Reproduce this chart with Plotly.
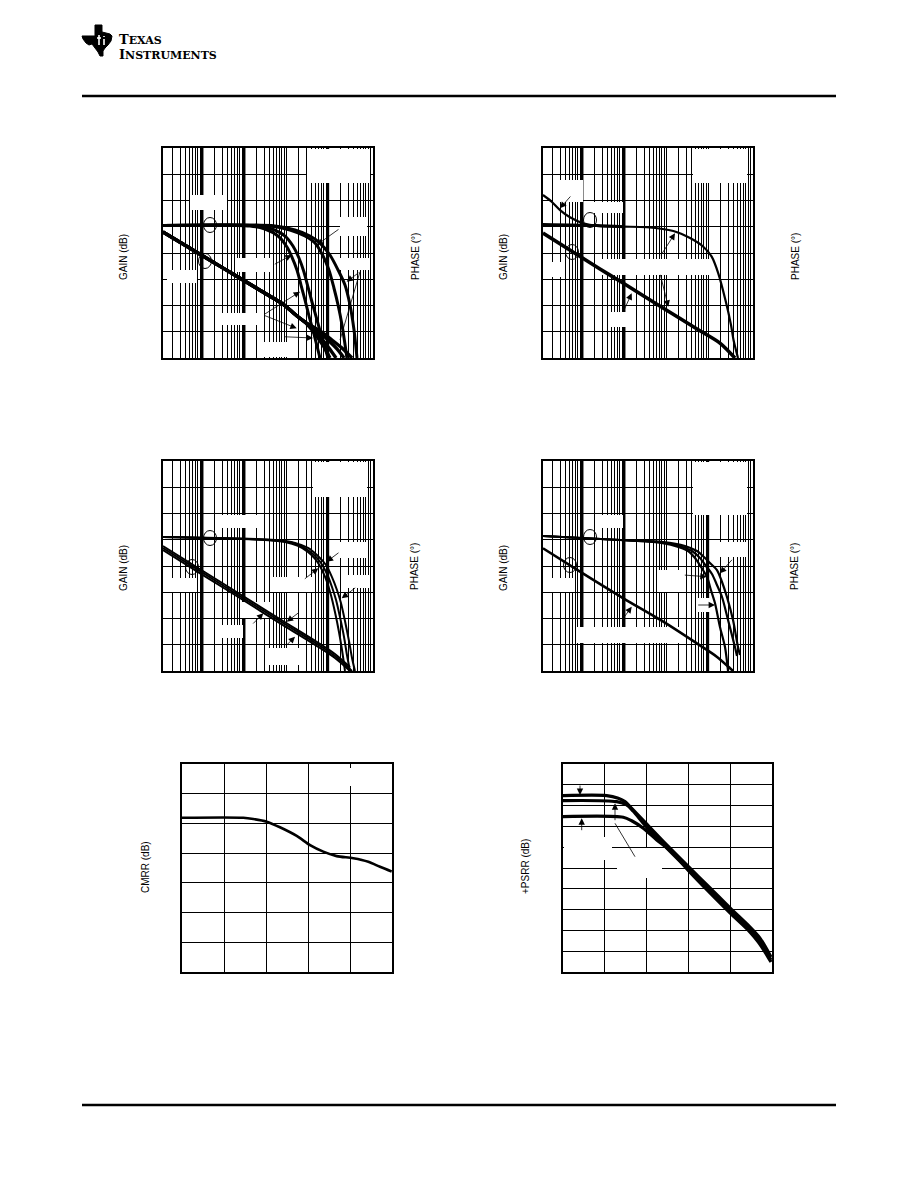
import plotly.graph_objects as go

PAGE_W, PAGE_H = 918, 1188
OFF = 8                      # the page body adds an 8 px margin around the figure
FW, FH = PAGE_W - 2 * OFF, PAGE_H - 2 * OFF

# ---------------- data ----------------
# Panel 1 : open-loop phase (4 curves) and gain (4 curves)
p1_ph_f = [
    [1.17e3, 1.38e5, 3.15e5, 6.43e5, 1.05e6, 1.38e6, 1.82e6, 2.27e6, 2.82e6, 3.52e6, 4.62e6, 6.43e6],
    [1.17e3, 2.15e5, 4.62e5, 9.44e5, 1.46e6, 2.03e6, 2.67e6, 3.33e6, 4.14e6, 5.46e6, 7.18e6, 9.98e6],
    [1.17e3, 4.15e5, 1.24e6, 2.82e6, 4.89e6, 7.59e6, 1.05e7, 1.38e7, 1.73e7, 2.15e7, 2.82e7],
    [1.17e3, 5.46e5, 1.63e6, 3.72e6, 6.43e6, 1.11e7, 1.73e7, 2.53e7, 3.33e7, 4.15e7, 4.89e7],
]
p1_ph_deg = [
    [-88.6, -89.1, -92.6, -100.6, -113.1, -124.6, -139.4, -156.6, -173.7, -192, -212.6, -240],
    [-88.6, -89.1, -92.6, -100.6, -112, -125.7, -141.7, -158.9, -176, -196.6, -217.1, -240],
    [-88.6, -89.1, -93.7, -100.6, -108.6, -123.4, -139.4, -160, -179.4, -202.3, -240],
    [-88.6, -89.1, -93.7, -100.6, -108.6, -122.3, -139.4, -156.6, -179.4, -208, -240],
]
p1_g_f = [
    [1.17e3, 1.05e4, 9.44e4, 4.89e5, 8.45e5, 1.82e6, 2.82e6, 4.14e6, 5.75e6, 8.0e6, 1.11e7],
    [1.17e3, 1.05e4, 9.44e4, 4.89e5, 8.45e5, 1.82e6, 2.82e6, 4.89e6, 7.18e6, 1.05e7, 1.55e7],
    [1.17e3, 1.05e4, 9.44e4, 4.89e5, 8.45e5, 1.82e6, 2.82e6, 5.75e6, 9.98e6, 1.63e7, 2.4e7],
    [1.17e3, 1.05e4, 9.44e4, 4.89e5, 8.45e5, 1.82e6, 2.82e6, 6.43e6, 1.24e7, 2.27e7, 3.72e7],
]
p1_g_db = [
    [56, 37.7, 19.4, 5.7, 1.1, -8, -12.6, -18.7, -24.8, -31.6, -40],
    [56, 37.7, 19.4, 5.7, 1.1, -8, -12.6, -19.4, -25.5, -32.4, -40],
    [56, 37.7, 19.4, 5.7, 1.1, -8, -12.6, -19.4, -26.3, -33.1, -40],
    [56, 37.7, 19.4, 5.7, 1.1, -8, -12.6, -19.4, -26.3, -33.1, -40],
]

# Panel 2 : two phase curves, one gain curve
p2_phA_f = [1.17e3, 1.89e3, 2.99e3, 5.16e3, 1.07e4, 2.23e4, 9.6e4, 3.46e5, 1.49e6, 3.72e6,
            7.7e6, 1.22e7, 1.75e7, 2.6e7, 3.52e7, 4.04e7, 5.16e7]
p2_phA_deg = [-53.7, -61.4, -70.9, -79.2, -86.1, -89.1, -89.9, -90.6, -94.9, -102.9,
              -112.8, -124.2, -143.2, -174, -202.3, -219.4, -240]
p2_phB_f = [1.17e3, 2.23e4, 9.6e4]
p2_phB_deg = [-87.4, -88.6, -89.9]
p2_g_f = [1.17e3, 2.67e4, 9.44e4, 8.45e5, 5.46e6, 1.92e7, 4.37e7]
p2_g_db = [55.2, 27.8, 17.1, -1.9, -17.9, -28.6, -40]

# Panel 3 : three phase curves, three gain curves
p3_ph_f = [
    [1.17e3, 3.15e5, 9.44e5, 1.92e6, 3.33e6, 5.16e6, 7.18e6, 9.44e6, 1.17e7, 1.46e7, 1.82e7, 2.15e7, 2.53e7],
    [1.17e3, 4.15e5, 1.24e6, 2.53e6, 4.38e6, 6.79e6, 9.44e6, 1.24e7, 1.55e7, 1.92e7, 2.4e7, 2.82e7, 3.33e7],
    [1.17e3, 5.46e5, 1.63e6, 3.33e6, 5.75e6, 8.93e6, 1.24e7, 1.63e7, 2.03e7, 2.53e7, 3.15e7, 3.72e7, 4.37e7],
]
p3_ph_deg = [
    [-86.9, -90.3, -92.6, -97.1, -104, -113.1, -124.6, -138.3, -153.1, -172.6, -195.4, -216, -240],
    [-86.9, -90.3, -92.6, -98.3, -106.3, -116.6, -129.1, -144, -158.9, -178.3, -201.1, -221.7, -240],
    [-86.9, -90.3, -93.7, -99.4, -108.6, -118.9, -132.6, -147.4, -162.3, -182.9, -205.7, -225.1, -240],
]
p3_g_f = [
    [1.17e3, 1.05e4, 9.44e4, 8.45e5, 5.46e6, 1.46e7, 3.33e7],
    [1.17e3, 1.05e4, 9.44e4, 8.45e5, 5.46e6, 1.46e7, 3.72e7],
    [1.17e3, 1.05e4, 9.44e4, 8.45e5, 5.46e6, 1.46e7, 3.33e7],
]
p3_g_db = [
    [55.2, 36.2, 17.1, -1.9, -17.9, -27, -37],
    [53.7, 34.7, 15.6, -3.4, -19.4, -28.6, -40],
    [52.2, 33.1, 14.1, -5, -21, -30.1, -40],
]

# Panel 4 : three phase curves, one gain curve
p4_ph_f = [
    [1.17e3, 8.0e4, 4.89e5, 1.63e6, 3.33e6, 4.89e6, 6.79e6, 9.44e6, 1.17e7, 1.46e7, 1.92e7, 2.53e7, 2.99e7],
    [1.17e3, 8.0e4, 6.43e5, 2.15e6, 4.14e6, 6.43e6, 8.93e6, 1.24e7, 1.63e7, 2.15e7, 2.99e7, 4.37e7, 4.89e7],
    [1.17e3, 8.0e4, 8.45e5, 2.82e6, 5.46e6, 8.0e6, 1.11e7, 1.63e7, 2.15e7, 2.82e7, 3.93e7, 5.16e7, 5.75e7],
]
p4_ph_deg = [
    [-85.7, -90.3, -92.6, -97.1, -102.9, -110.9, -121.1, -132.6, -147.4, -162.3, -189.7, -212.6, -240],
    [-85.7, -90.3, -92.6, -97.1, -102.9, -110.9, -120, -129.1, -141.7, -155.4, -181.7, -212.6, -222.9],
    [-85.7, -90.3, -92.6, -97.1, -102.9, -109.7, -116.6, -124.6, -138.3, -155.4, -181.7, -212.6, -221.7],
]
p4_g_f = [1.17e3, 8.93e3, 9.6e4, 8.59e5, 5.37e6, 1.61e7, 3.33e7, 3.93e7]
p4_g_db = [53.5, 35.7, 15.4, -2.4, -18.9, -29.1, -37.9, -40]

# Panel 5 : CMRR
cmrr_f = [1e3, 2.88e4, 4.99e4, 1.04e5, 2.15e5, 5.38e5, 1.12e6, 2.31e6, 4.82e6, 1.2e7, 2.73e7, 5.18e7, 9.84e7]
cmrr_db = [81.9, 81.9, 81.5, 80.6, 78.7, 75.8, 72.7, 70.5, 69.0, 68.3, 67.1, 65.4, 63.8]

# Panel 6 : +PSRR (three curves)
psrr_f = [
    [1e3, 1.11e4, 2.1e4, 3.04e4, 4.4e4, 1.0e5, 3.03e5, 1.02e6, 3.29e6, 9.89e6, 2.98e7, 4.7e7, 6.8e7, 9.46e7],
    [1e3, 1.93e4, 3.34e4, 4.73e4, 1.0e5, 3.05e5, 1.02e6, 3.29e6, 9.89e6, 2.98e7, 4.7e7, 6.8e7, 9.46e7],
    [1e3, 2.77e4, 4.4e4, 8.34e4, 1.75e5, 4.36e5, 1.02e6, 3.29e6, 9.89e6, 2.98e7, 4.7e7, 6.8e7, 9.46e7],
]
psrr_db = [
    [84.8, 84.8, 83.5, 81.9, 78.7, 71.2, 61.1, 50.5, 40.4, 30.8, 21.6, 17.3, 12.5, 7.2],
    [82.4, 81.9, 80.3, 77.4, 69.7, 59.6, 49.0, 38.9, 29.3, 20.2, 15.4, 10.6, 5.8],
    [74.7, 74.4, 72.7, 69.1, 63.5, 57.1, 48.6, 38.0, 28.4, 19.2, 14.4, 9.6, 4.8],
]

# ---------------- layout geometry (page pixels) ----------------
PANELS = {
    1: dict(L=163, T=148, W=210, H=210, x="x", gy="y", py="y2", xr=[3.07, 8.07], yr=[-40, 120], dy=20),
    2: dict(L=543, T=148, W=210, H=210, x="x2", gy="y3", py="y4", xr=[3.07, 8.07], yr=[-40, 120], dy=20),
    3: dict(L=163, T=461, W=210, H=210, x="x3", gy="y5", py="y6", xr=[3.07, 8.07], yr=[-40, 120], dy=20),
    4: dict(L=543, T=461, W=210, H=210, x="x4", gy="y7", py="y8", xr=[3.07, 8.07], yr=[-40, 120], dy=20),
    5: dict(L=182, T=764, W=210, H=208, x="x5", gy="y9", py=None, xr=[3, 8], yr=[30, 100], dy=10),
    6: dict(L=563, T=764, W=209, H=208, x="x6", gy="y10", py=None, xr=[3, 8], yr=[0, 100], dy=10),
}
PHASE_RANGE = [-240, 0]
THICK_DECADES = {1: [1e4, 1e5, 1e7], 2: [1e4, 1e5], 3: [1e4, 1e5, 1e7], 4: [1e4, 1e5, 1e7]}

WHITE_BOXES = {
    1: [(307, 149, 370, 183), (190, 195, 227, 210), (340, 217, 367, 236), (237, 258, 272, 272),
        (340, 258, 370, 270), (167, 270, 197, 283), (218, 313, 260, 325), (257, 342, 287, 357)],
    2: [(693, 149, 747, 183), (553, 180, 583, 202), (593, 202, 623, 213), (600, 259, 713, 275),
        (545, 262, 563, 277), (608, 312, 627, 327)],
    3: [(313, 462, 367, 497), (220, 515, 257, 528), (340, 542, 367, 558), (167, 578, 197, 592),
        (273, 577, 313, 592), (343, 575, 370, 588), (240, 602, 270, 618), (220, 625, 243, 638),
        (267, 648, 303, 665)],
    4: [(693, 462, 747, 515), (597, 515, 623, 528), (720, 542, 747, 557), (657, 570, 683, 592),
        (547, 578, 573, 592), (697, 598, 713, 612), (577, 627, 680, 643)],
    5: [(333, 768, 367, 786)],
    6: [(564, 837, 612, 860), (617, 848, 662, 878)],
}
ELLIPSES = [(210, 225), (205, 261), (590, 220), (572, 252), (210, 538), (192, 567), (590, 537), (570, 565)]
ARROWS = [  # (tip, tail) in page pixels
    ((316.7, 245), (340, 228.3)), ((291.7, 255), (273.3, 265)), ((300, 291.7), (263.3, 315)),
    ((296.7, 328.3), (263.3, 315)), ((346.7, 281.7), (360, 271.7)), ((313, 338), (283, 336.7)),
    ((560, 208.3), (571.7, 195)), ((675, 233.3), (660, 256.7)), ((631.7, 293.3), (623.3, 311.7)),
    ((668.3, 306.7), (660, 273.3)),
    ((326.7, 561.7), (340, 551.7)), ((318.3, 568.3), (303.3, 580)), ((341.7, 598.3), (356.7, 586.7)),
    ((263.3, 613.3), (251.7, 625)), ((286.7, 621.7), (300, 611.7)), ((295, 636.7), (285, 646.7)),
    ((720, 573.3), (733.3, 558.3)), ((706.7, 576.7), (683.3, 575)), ((715, 605), (696.7, 605)),
    ((631.7, 606.7), (623.3, 618.3)),
    ((580, 795), (580, 784)), ((615, 803.3), (615, 821.7)), ((581.7, 818.3), (581.7, 831.7)),
]
LEADERS = [((360, 271.7), (340, 340)), ((615, 823.3), (635, 856.7))]
TI_LOGO = [(95, 25), (102, 25), (102, 32), (106, 33), (110, 34), (112, 36), (111, 41), (108, 45),
           (105, 48), (103, 51), (103, 56), (100, 56), (98, 52), (95, 48), (92, 44), (89, 45),
           (86, 43), (83, 39), (82, 36), (89, 36), (95, 36)]
TI_LOGO_MARKS = [((99, 35), (99, 45)), ((97, 38), (101, 38)), ((104, 39), (104, 45)), ((104, 36), (104, 37))]
LOGO_LINES = [("T", "EXAS", 39), ("I", "NSTRUMENTS", 55)]


def fx(x):
    return (x - OFF) / FW


def fy(y):
    return 1 - (y - OFF) / FH


def axname(ref):
    kind = "xaxis" if ref[0] == "x" else "yaxis"
    return kind + ref[1:]


def px_to_data(pan, px, py):
    """Convert a page-pixel position inside a panel to that panel's (log-x, gain-y) data values."""
    r0, r1 = pan["xr"]
    y0, y1 = pan["yr"]
    xv = 10 ** (r0 + (px - pan["L"]) / pan["W"] * (r1 - r0))
    yv = y1 - (py - pan["T"]) / pan["H"] * (y1 - y0)
    return xv, yv


fig = go.Figure()

# emphasised decade grid lines and blanked (white) label areas, drawn under the curves
for p, decs in THICK_DECADES.items():
    pan = PANELS[p]
    for dcd in decs:
        fig.add_trace(go.Scatter(x=[dcd, dcd], y=pan["yr"], mode="lines", xaxis=pan["x"], yaxis=pan["gy"],
                                 line=dict(color="black", width=2.8 if dcd < 1e6 else 2.2),
                                 showlegend=False, hoverinfo="skip"))
for p, boxes in WHITE_BOXES.items():
    pan = PANELS[p]
    for (bx0, by0, bx1, by1) in boxes:
        xa, ya = px_to_data(pan, bx0, by0)
        xb, yb = px_to_data(pan, bx1, by1)
        fig.add_trace(go.Scatter(x=[xa, xb, xb, xa, xa], y=[ya, ya, yb, yb, ya], mode="lines",
                                 fill="toself", fillcolor="white", line=dict(width=0, color="white"),
                                 xaxis=pan["x"], yaxis=pan["gy"], showlegend=False, hoverinfo="skip"))


def add_line(xs, ys, p, axis="g", width=2.0):
    pan = PANELS[p]
    fig.add_trace(go.Scatter(
        x=xs, y=ys, mode="lines", xaxis=pan["x"], yaxis=pan["gy"] if axis == "g" else pan["py"],
        line=dict(color="black", width=width, shape="spline", smoothing=0.8),
        showlegend=False, hoverinfo="skip"))


for f, d in zip(p1_g_f, p1_g_db):
    add_line(f, d, 1, "g", 3.4)
for f, d in zip(p1_ph_f, p1_ph_deg):
    add_line(f, d, 1, "p", 3.0)

add_line(p2_g_f, p2_g_db, 2, "g", 3.6)
add_line(p2_phB_f, p2_phB_deg, 2, "p", 3.0)
add_line(p2_phA_f, p2_phA_deg, 2, "p", 2.2)

for f, d in zip(p3_g_f, p3_g_db):
    add_line(f, d, 3, "g", 2.0)
for f, d in zip(p3_ph_f, p3_ph_deg):
    add_line(f, d, 3, "p", 2.0)

add_line(p4_g_f, p4_g_db, 4, "g", 2.6)
for f, d in zip(p4_ph_f, p4_ph_deg):
    add_line(f, d, 4, "p", 2.2)

add_line(cmrr_f, cmrr_db, 5, "g", 2.6)
for f, d in zip(psrr_f, psrr_db):
    add_line(f, d, 6, "g", 3.2)

layout = dict(
    width=FW, height=FH, margin=dict(l=0, r=0, t=0, b=0),
    paper_bgcolor="white", plot_bgcolor="white", showlegend=False,
)

grid = dict(showgrid=True, gridcolor="black", gridwidth=1, showticklabels=False, ticks="",
            showline=True, mirror=True, linecolor="black", linewidth=1.5, zeroline=False)

for p, pan in PANELS.items():
    xd = [fx(pan["L"]), fx(pan["L"] + pan["W"])]
    yd = [fy(pan["T"] + pan["H"]), fy(pan["T"])]
    xa = dict(type="log", range=pan["xr"], domain=xd, anchor=pan["gy"], dtick=1, **grid)
    if pan["py"] is not None:
        xa["minor"] = dict(dtick="D1", showgrid=True, gridcolor="black", gridwidth=1, ticks="")
    layout[axname(pan["x"])] = xa
    layout[axname(pan["gy"])] = dict(range=pan["yr"], dtick=pan["dy"], tick0=pan["yr"][0],
                                     domain=yd, anchor=pan["x"], **grid)
    if pan["py"] is not None:
        layout[axname(pan["py"])] = dict(range=PHASE_RANGE, overlaying=pan["gy"], anchor=pan["x"],
                                         side="right", showgrid=False, showticklabels=False,
                                         ticks="", showline=False, zeroline=False)

shapes = []
for (cx, cy) in ELLIPSES:
    shapes.append(dict(type="circle", xref="paper", yref="paper",
                       x0=fx(cx - 6.5), x1=fx(cx + 6.5), y0=fy(cy + 7.5), y1=fy(cy - 7.5),
                       line=dict(color="black", width=1)))
for (a, b) in LEADERS:
    shapes.append(dict(type="line", xref="paper", yref="paper", x0=fx(a[0]), y0=fy(a[1]),
                       x1=fx(b[0]), y1=fy(b[1]), line=dict(color="black", width=0.8)))
# header / footer rules
shapes.append(dict(type="line", xref="paper", yref="paper", x0=fx(82), x1=fx(836), y0=fy(96),
                   y1=fy(96), line=dict(color="black", width=2.5)))
shapes.append(dict(type="line", xref="paper", yref="paper", x0=fx(82), x1=fx(836), y0=fy(1105),
                   y1=fy(1105), line=dict(color="black", width=2.5)))
# TI logo silhouette with the white "ti" strokes
path = "M " + " L ".join(f"{fx(x):.5f},{fy(y):.5f}" for x, y in TI_LOGO) + " Z"
shapes.append(dict(type="path", xref="paper", yref="paper", path=path, fillcolor="black",
                   line=dict(color="black", width=1)))
for (a, b) in TI_LOGO_MARKS:
    shapes.append(dict(type="line", xref="paper", yref="paper", x0=fx(a[0]), y0=fy(a[1]),
                       x1=fx(b[0]), y1=fy(b[1]), line=dict(color="white", width=1.6)))
layout["shapes"] = shapes

ann = []
font = dict(family="Liberation Sans, Arial, sans-serif", size=10, color="black")
titles = [("GAIN (dB)", 123, 257), ("PHASE (°)", 415, 257), ("GAIN (dB)", 503, 257),
          ("PHASE (°)", 795, 257), ("GAIN (dB)", 123, 568), ("PHASE (°)", 415, 567),
          ("GAIN (dB)", 503, 568), ("PHASE (°)", 795, 567), ("CMRR (dB)", 145, 867),
          ("+PSRR (dB)", 525, 867)]
for t, x, y in titles:
    ann.append(dict(text=t, x=fx(x), y=fy(y), xref="paper", yref="paper", textangle=-90,
                    showarrow=False, font=font, xanchor="center", yanchor="middle"))
for (tip, tail) in ARROWS:
    ann.append(dict(text="", x=fx(tip[0]), y=fy(tip[1]), xref="paper", yref="paper",
                    ax=tail[0] - tip[0], ay=tail[1] - tip[1], showarrow=True, arrowhead=2,
                    arrowsize=1.6, arrowwidth=0.8, arrowcolor="black"))
logo_font = dict(family="DejaVu Serif, Liberation Serif, serif", size=11, color="black")
for big, rest, yc in LOGO_LINES:
    ann.append(dict(text=f"<b><span style='font-size:13px'>{big}</span>{rest}</b>",
                    x=fx(118), y=fy(yc), xref="paper", yref="paper", xanchor="left",
                    yanchor="middle", showarrow=False, font=logo_font, borderpad=0))
layout["annotations"] = ann

fig.update_layout(**layout)
fig.write_html("out.html")
